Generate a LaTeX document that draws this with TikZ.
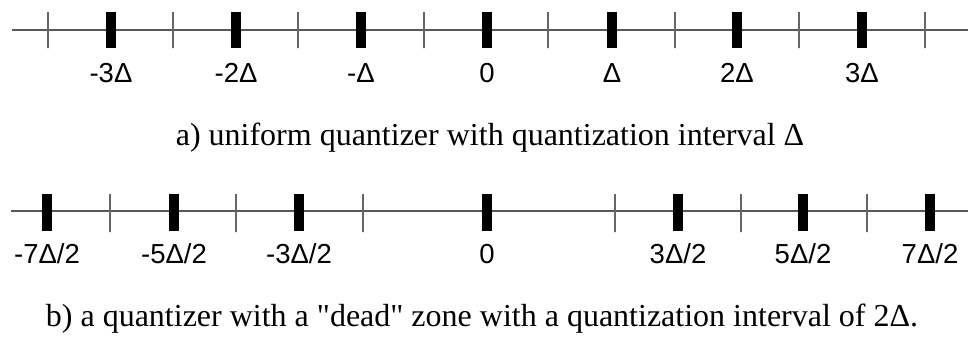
\documentclass[tikz,border=0pt]{standalone}
\usepackage{fontspec}
\setmainfont{Liberation Serif}[Ligatures=TeXOff]
\setsansfont{Liberation Sans}
\usetikzlibrary{positioning}
\tikzset{
  axis/.style={
    draw=black!65,
    line width=1.4pt
  },
  level/.style={
    rectangle,
    fill=black,
    inner sep=0pt,
    minimum width=10pt,
    minimum height=36pt
  },
  bound/.style={
    rectangle,
    draw=black!60,
    line width=1.4pt,
    inner sep=0pt,
    minimum width=0pt,
    minimum height=36pt
  },
  value/.style={
    anchor=base,
    inner sep=0pt,
    font=\sffamily\fontsize{27.5}{32}\selectfont
  },
  caption/.style={
    anchor=base,
    inner sep=0pt,
    font=\fontsize{32}{38}\selectfont
  }
}

\begin{document}
\begin{tikzpicture}[x=1pt, y=-1pt]
  \useasboundingbox (0,0) rectangle (968,340);

  % a) uniform quantizer
  \coordinate (ua) at (12,30);
  \coordinate (ub) at (968,30);
  \draw[axis] (ua) -- (ub);

  \node[bound] (ut1) at (48,30) {};
  \node[bound] (ut2) at (173,30) {};
  \node[bound] (ut3) at (298,30) {};
  \node[bound] (ut4) at (424,30) {};
  \node[bound] (ut5) at (548,30) {};
  \node[bound] (ut6) at (675,30) {};
  \node[bound] (ut7) at (799,30) {};
  \node[bound] (ut8) at (925,30) {};

  \node[level] (um3) at (111,30) {};
  \node[level] (um2) at (236,30) {};
  \node[level] (um1) at (361,30) {};
  \node[level] (u0) at (487,30) {};
  \node[level] (up1) at (612,30) {};
  \node[level] (up2) at (737,30) {};
  \node[level] (up3) at (862,30) {};

  \node[value] (lum3) at (um3 |- 0,82) {-3Δ};
  \node[value] (lum2) at (um2 |- 0,82) {-2Δ};
  \node[value] (lum1) at (um1 |- 0,82) {-Δ};
  \node[value] (lu0) at (u0 |- 0,82) {0};
  \node[value] (lup1) at (up1 |- 0,82) {Δ};
  \node[value] (lup2) at (up2 |- 0,82) {2Δ};
  \node[value] (lup3) at (up3 |- 0,82) {3Δ};

  \node[caption] (capa) at (490,145) {a) uniform quantizer with quantization interval Δ};

  % b) dead zone quantizer
  \coordinate (da) at (11,211);
  \coordinate (db) at (968,211);
  \draw[axis] (da) -- (db);

  \node[bound, minimum height=38pt] (dt1) at (110,213) {};
  \node[bound, minimum height=38pt] (dt2) at (236,213) {};
  \node[bound, minimum height=38pt] (dt3) at (363,213) {};
  \node[bound, minimum height=38pt] (dt4) at (615,213) {};
  \node[bound, minimum height=38pt] (dt5) at (741,213) {};
  \node[bound, minimum height=38pt] (dt6) at (867,213) {};

  \node[level, minimum height=37pt] (dm7) at (47,212.5) {};
  \node[level, minimum height=37pt] (dm5) at (174,212.5) {};
  \node[level, minimum height=37pt] (dm3) at (299,212.5) {};
  \node[level, minimum height=37pt] (d0) at (487,212.5) {};
  \node[level, minimum height=37pt] (dp3) at (678,212.5) {};
  \node[level, minimum height=37pt] (dp5) at (803,212.5) {};
  \node[level, minimum height=37pt] (dp7) at (930,212.5) {};

  \node[value] (ldm7) at (dm7 |- 0,263) {-7Δ/2};
  \node[value] (ldm5) at (dm5 |- 0,263) {-5Δ/2};
  \node[value] (ldm3) at (dm3 |- 0,263) {-3Δ/2};
  \node[value] (ld0) at (d0 |- 0,263) {0};
  \node[value] (ldp3) at (dp3 |- 0,263) {3Δ/2};
  \node[value] (ldp5) at (dp5 |- 0,263) {5Δ/2};
  \node[value] (ldp7) at (dp7 |- 0,263) {7Δ/2};

  \node[caption] (capb) at (482,326) {b) a quantizer with a "dead" zone with a quantization interval of 2Δ.};
\end{tikzpicture}
\end{document}
